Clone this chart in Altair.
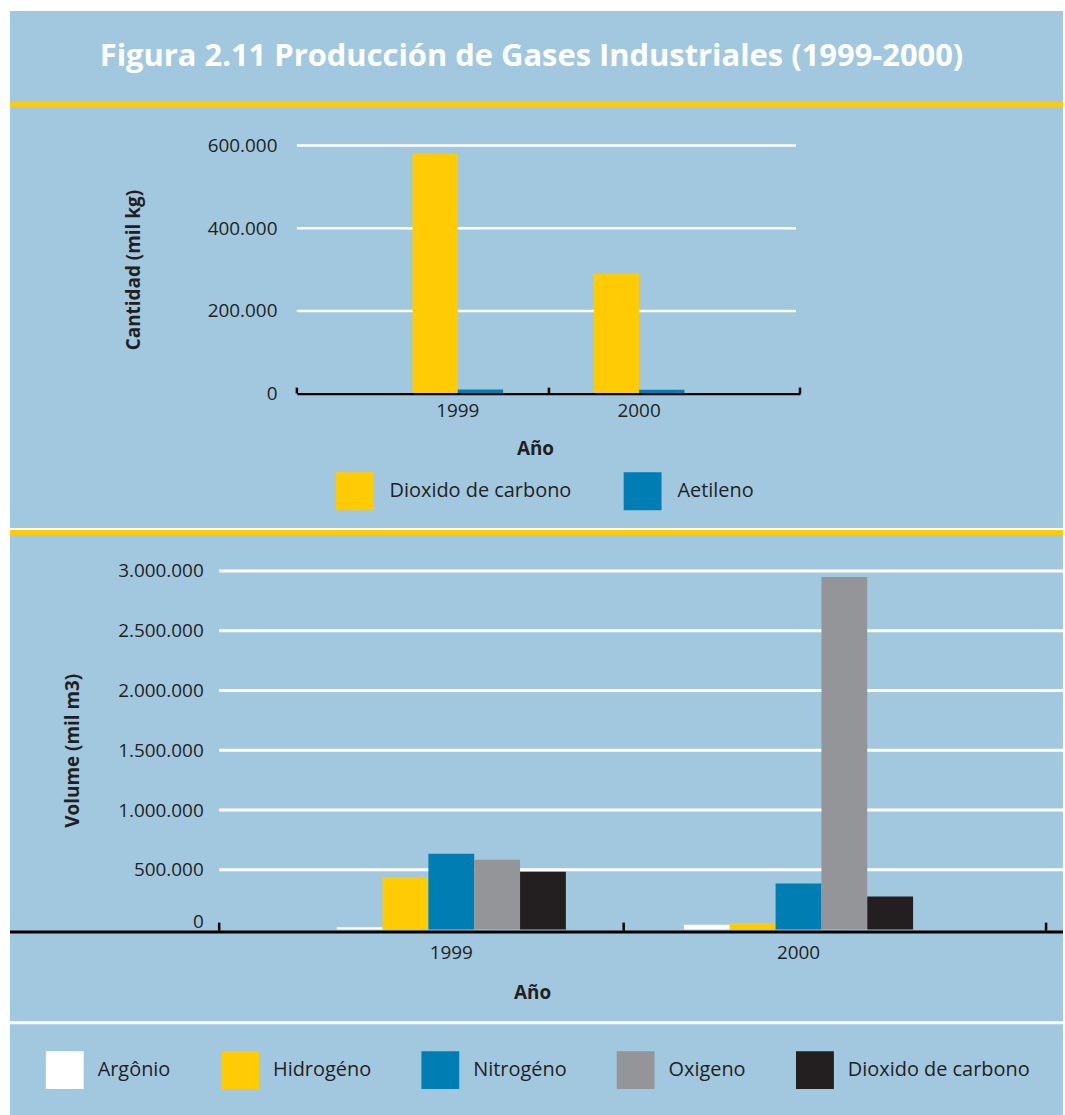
import altair as alt
import pandas as pd

# ---------------- data ----------------
title_text = "Figura 2.11 Producción de Gases Industriales (1999-2000)"
years = ["1999", "2000"]

top_gases = ["Dioxido de carbono", "Aetileno"]
top_co2 = [580000, 290000]
top_aetileno = [10000, 9500]
top_colors = ["#ffcb05", "#007db3"]
top_ticks = [0, 200000, 400000, 600000]

bottom_gases = ["Argônio", "Hidrogéno", "Nitrogéno", "Oxigeno", "Dioxido de carbono"]
bottom_1999 = [20000, 440000, 635000, 585000, 485000]
bottom_2000 = [40000, 55000, 385000, 2950000, 277000]
bottom_colors = ["#ffffff", "#ffcb05", "#007db3", "#939598", "#231f20"]
bottom_ticks = [0, 500000, 1000000, 1500000, 2000000, 2500000, 3000000]

PANEL = "#a2c8e0"
YELLOW = "#ffcb05"
INK = "#231f20"
FONT = "Open Sans"
FS = 19
LFS = 20
NUMFMT = "replace(format(datum.value, ','), regexp(',', 'g'), '.')"

top_df = pd.DataFrame({
    "year": [years[0], years[1], years[0], years[1]],
    "gas": [top_gases[0], top_gases[0], top_gases[1], top_gases[1]],
    "value": top_co2 + top_aetileno,
})
bottom_df = pd.DataFrame({
    "year": [years[0]] * len(bottom_gases) + [years[1]] * len(bottom_gases),
    "gas": bottom_gases + bottom_gases,
    "value": bottom_1999 + bottom_2000,
})
dummy = pd.DataFrame({"d": [0]})


def deco_rect(color, x, x2, y, y2):
    return alt.Chart(dummy).mark_rect(color=color).encode(
        x=alt.value(x), x2=alt.value(x2), y=alt.value(y), y2=alt.value(y2))


def deco_rule(color, width, x, y, x2=None, y2=None):
    enc = {"x": alt.value(x), "y": alt.value(y)}
    if x2 is not None:
        enc["x2"] = alt.value(x2)
    if y2 is not None:
        enc["y2"] = alt.value(y2)
    return alt.Chart(dummy).mark_rule(color=color, strokeWidth=width).encode(**enc)


# ---------------- top chart ----------------
W1, H1 = 583, 249
top_yscale = alt.Scale(domain=[0, 600000], nice=False)
top_yaxis = alt.Axis(title="Cantidad (mil kg)", values=top_ticks, labelExpr=NUMFMT,
                     offset=-78, labelPadding=20, ticks=False, tickSize=0, domain=False,
                     grid=False, titleX=-164, titleBaseline="middle", zindex=1)

top_bars = alt.Chart(top_df).mark_bar().encode(
    x=alt.X("year:N", sort=years,
            scale=alt.Scale(range=[78, 583], paddingInner=0.5, paddingOuter=0.6374, align=0.5),
            axis=alt.Axis(title="Año", titleX=317, titleY=55, titleBaseline="middle",
                          labelAngle=0, labelPadding=8, ticks=False, tickSize=0,
                          domain=True, domainColor="#000000", domainWidth=2.5, grid=False,
                          zindex=1)),
    xOffset=alt.XOffset("gas:N", sort=top_gases, scale=alt.Scale(paddingInner=0, paddingOuter=0)),
    y=alt.Y("value:Q", scale=top_yscale, axis=top_yaxis),
    color=alt.Color("gas:N", sort=top_gases,
                    scale=alt.Scale(domain=top_gases, range=top_colors),
                    legend=alt.Legend(title=None, orient="none", legendX=117, legendY=328,
                                      direction="horizontal", symbolType="square",
                                      symbolSize=1444, symbolStrokeWidth=0, labelOffset=16,
                                      columnPadding=52, labelLimit=400, padding=0)),
)

top_grid = alt.Chart(pd.DataFrame({"value": top_ticks[1:]})).mark_rule(
    color="white", strokeWidth=2.5).encode(
    y=alt.Y("value:Q", scale=top_yscale, axis=top_yaxis), x=alt.value(78), x2=alt.value(579))

top_chart = alt.layer(
    deco_rect(PANEL, -210, 847, -135, 384),
    deco_rect(YELLOW, -210, 847, -44, -39),
    top_grid,
    top_bars,
    deco_rule("#000000", 2.5, 78, H1 - 6, y2=H1),
    deco_rule("#000000", 2.5, 331, H1 - 6, y2=H1),
    deco_rule("#000000", 2.5, 583, H1 - 6, y2=H1),
).properties(
    width=W1, height=H1,
    title=alt.TitleParams(text=title_text, anchor="middle", frame="bounds", offset=-77,
                          baseline="middle", font=FONT, fontSize=31, fontWeight="bold",
                          color="white", dx=-5),
)

# ---------------- bottom chart ----------------
W2, H2 = 830, 360
bot_yscale = alt.Scale(domain=[0, 3000000], nice=False)
bot_yaxis = alt.Axis(title="Volume (mil m3)", values=bottom_ticks, labelExpr=NUMFMT,
                     labelPadding=16, ticks=False, tickSize=0, domain=False, grid=False,
                     titleX=-147, titleBaseline="middle", zindex=1,
                     labelOffset={"condition": {"test": "datum.value == 0", "value": -8},
                                  "value": 0})

bottom_bars = alt.Chart(bottom_df).mark_bar().encode(
    x=alt.X("year:N", sort=years,
            scale=alt.Scale(paddingInner=0.34, paddingOuter=0.3608, align=0.4692),
            axis=alt.Axis(title="Año", titleX=314, titleY=63, titleBaseline="middle",
                          labelAngle=0, labelPadding=14, ticks=False, tickSize=0,
                          domain=False, grid=False, zindex=1)),
    xOffset=alt.XOffset("gas:N", sort=bottom_gases, scale=alt.Scale(paddingInner=0, paddingOuter=0)),
    y=alt.Y("value:Q", scale=bot_yscale, axis=bot_yaxis),
    color=alt.Color("gas:N", sort=bottom_gases,
                    scale=alt.Scale(domain=bottom_gases, range=bottom_colors),
                    legend=alt.Legend(title=None, orient="none", legendX=-174, legendY=482,
                                      direction="horizontal", symbolType="square",
                                      symbolSize=1444, symbolStrokeWidth=0, labelOffset=14,
                                      columnPadding=50, labelLimit=400, padding=0)),
)

bottom_grid = alt.Chart(pd.DataFrame({"value": bottom_ticks[1:]})).mark_rule(
    color="white", strokeWidth=3).encode(
    y=alt.Y("value:Q", scale=bot_yscale, axis=bot_yaxis), x=alt.value(0), x2=alt.value(847))

bottom_chart = alt.layer(
    deco_rect(PANEL, -210, 847, -41, 547),
    deco_rect(YELLOW, -210, 847, -41, -36),
    deco_rect("white", -210, 847, 452, 455),
    bottom_grid,
    bottom_bars,
    deco_rule("#000000", 3, -210, 362.5, x2=847),
    deco_rule("#000000", 2.5, 0, H2 - 7, y2=H2 + 1),
    deco_rule("#000000", 2.5, 406, H2 - 7, y2=H2 + 1),
    deco_rule("#000000", 2.5, 830, H2 - 7, y2=H2 + 1),
).properties(width=W2, height=H2)

chart = alt.vconcat(top_chart, bottom_chart, spacing=0).resolve_scale(
    color="independent", x="independent", y="independent", xOffset="independent"
).resolve_legend(color="independent").properties(
    padding={"left": 8, "top": 8, "right": 0, "bottom": 0},
    background="white",
).configure_view(stroke="transparent").configure_axis(
    labelFont=FONT, labelFontSize=FS, labelColor=INK,
    titleFont=FONT, titleFontSize=FS, titleFontWeight="bold", titleColor=INK,
).configure_legend(
    labelFont=FONT, labelFontSize=LFS, labelColor=INK,
)

chart.save("out.html", embed_options={"renderer": "svg", "actions": False})
